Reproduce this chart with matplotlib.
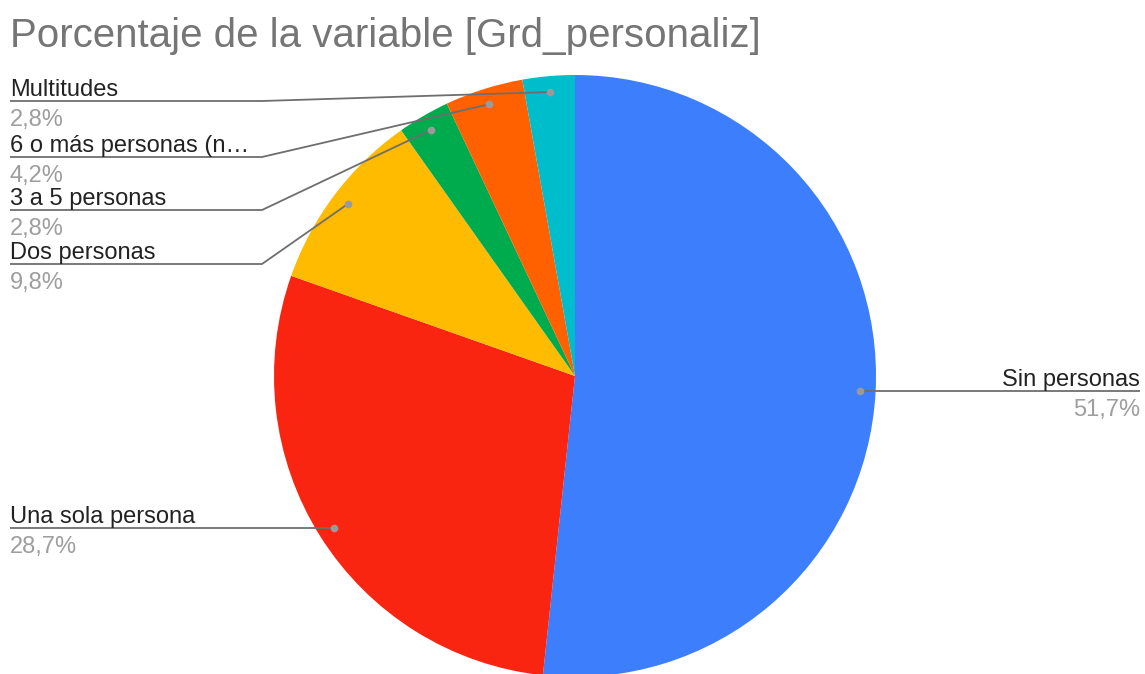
import numpy as np
import matplotlib.pyplot as plt

categorias = ['Sin personas', 'Una sola persona', 'Dos personas',
              '3 a 5 personas', '6 o más personas (n…', 'Multitudes']
porcentajes = [51.7, 28.7, 9.8, 2.8, 4.2, 2.8]
etiquetas_pct = ['51,7%', '28,7%', '9,8%', '2,8%', '4,2%', '2,8%']
colores = ['#3d7efc', '#fa2510', '#ffbb00', '#00ab4e', '#ff6100', '#00bdcc']

plt.rcParams['font.family'] = ['Liberation Sans', 'DejaVu Sans']

W, H = 1145, 674
fig = plt.figure(figsize=(W / 100, H / 100), dpi=100)
ax = fig.add_axes([0, 0, 1, 1])

cx, cy, r = 575, H - 376, 301
wedges, _ = ax.pie(porcentajes, colors=colores, startangle=90, counterclock=False,
                   radius=r, center=(cx, cy), wedgeprops=dict(linewidth=0))
ax.set_xlim(0, W)
ax.set_ylim(0, H)
ax.set_aspect('equal')
ax.axis('off')

# altura (px desde arriba) de la linea de cada etiqueta de la izquierda
y_linea = {2: 264, 3: 210, 4: 157, 5: 101}
fs = 17
c_linea = '#6e6e6e'

for i, w in enumerate(wedges):
    ang = np.deg2rad((w.theta1 + w.theta2) / 2)
    px = cx + 0.947 * r * np.cos(ang)
    py = cy + 0.947 * r * np.sin(ang)
    if i == 0:
        ly = py
        xs, ys = [px, W - 5], [py, py]
        tx, ha = W - 5, 'right'
    elif i == 1:
        ly = py
        xs, ys = [px, 10], [py, py]
        tx, ha = 10, 'left'
    else:
        ly = H - y_linea[i]
        xs, ys = [px, 262, 10], [py, ly, ly]
        tx, ha = 10, 'left'
    ax.plot(xs, ys, color=c_linea, lw=1.3, solid_capstyle='butt', zorder=3)
    ax.plot(px, py, 'o', color='#9a9a9a', ms=5.5, mec='none', zorder=4)
    ax.text(tx, ly + 5, categorias[i], ha=ha, va='baseline', fontsize=fs, color='#222222')
    ax.text(tx, ly - 25, etiquetas_pct[i], ha=ha, va='baseline', fontsize=fs, color='#9e9e9e')

ax.text(10, H - 47, 'Porcentaje de la variable [Grd_personaliz]', ha='left', va='baseline',
        fontsize=29, color='#757575')

plt.savefig('out.png', dpi=100)
